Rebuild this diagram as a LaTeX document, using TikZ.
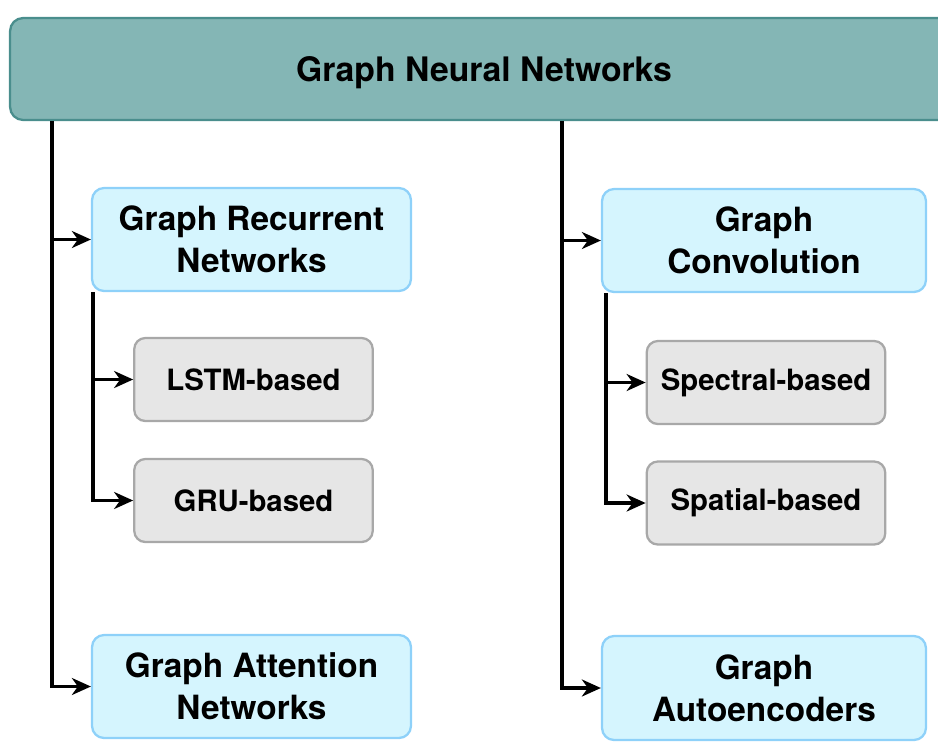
\documentclass[tikz,border=0pt]{standalone}
\usepackage{fontspec}
\setmainfont{TeX Gyre Heros}
\usetikzlibrary{arrows.meta}
\definecolor{topfill}{RGB}{132,182,181}
\definecolor{topline}{RGB}{74,142,141}
\definecolor{midfill}{RGB}{213,245,254}
\definecolor{midline}{RGB}{142,209,249}
\definecolor{leaffill}{RGB}{230,230,230}
\definecolor{leafline}{RGB}{168,168,168}
\begin{document}
\begin{tikzpicture}[x=0.02cm, y=-0.02cm]

      \tikzset{rootbox/.style={draw=topline, fill=topfill, line width=1.3pt, rounded corners=0.26cm, minimum width=18.96cm, minimum height=2.04cm, text depth=0pt, font=\fontsize{19.2}{24}\selectfont\bfseries},
               midbox/.style={draw=midline, fill=midfill, line width=1.3pt, rounded corners=0.24cm, minimum height=2.06cm, align=center, font=\fontsize{19}{24}\selectfont\bfseries},
               leafbox/.style={draw=leafline, fill=leaffill, line width=1.3pt, rounded corners=0.22cm, minimum width=4.77cm, minimum height=1.66cm, font=\fontsize{16.7}{20}\selectfont\bfseries},
               link/.style={-{Stealth[length=0.38cm, width=0.34cm, inset=0.12cm]}, line width=2pt}}
      \useasboundingbox (0,0) rectangle (938,755);
%% Boxes
      	\node[rootbox] (gnn) at (484,69) {Graph Neural Networks};
      	\node[midbox, minimum width=6.38cm] (grn) at (251.5,239.5) {Graph Recurrent\\Networks};
      	\node[leafbox] (lstm) at (253.5,379.5) {LSTM-based};
      	\node[leafbox] (gru) at (253.5,500.5) {GRU-based};
      	\node[midbox, minimum width=6.38cm] (gat) at (251.5,686.5) {Graph Attention\\Networks};
      	\node[midbox, minimum width=6.48cm] (gcn) at (764,240.5) {Graph\\Convolution};
      	\node[leafbox] (spec) at (766,382.5) {Spectral-based};
      	\node[leafbox] (spat) at (766,503) {Spatial-based};
      	\node[midbox, minimum width=6.48cm, minimum height=2.08cm] (gae) at (764,688) {Graph\\Autoencoders};
%% Trunks
      	\coordinate (lt) at (52,0);
      	\coordinate (rt) at (562,0);
      	\coordinate (lsub) at (93,0);
      	\coordinate (rsub) at (606,0);
%Edges
		\draw[link] (gnn.south -| lt) |- (grn.west);
		\draw[link] (gnn.south -| lt) |- (gat.west);
		\draw[link] (gnn.south -| rt) |- (gcn.west);
		\draw[link] (gnn.south -| rt) |- (gae.west);
		\draw[link] (grn.south -| lsub) |- (lstm.west);
		\draw[link] (grn.south -| lsub) |- (gru.west);
		\draw[link] (gcn.south -| rsub) |- (spec.west);
		\draw[link] (gcn.south -| rsub) |- (spat.west);

	\end{tikzpicture}
\end{document}
